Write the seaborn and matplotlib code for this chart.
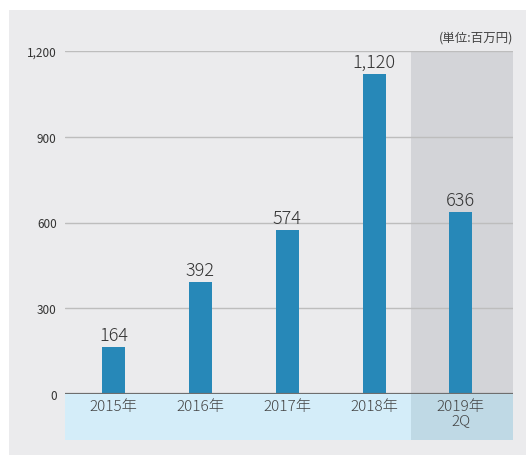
import numpy as np
import pandas as pd
import matplotlib.pyplot as plt
import seaborn as sns
from matplotlib.patches import Rectangle

years = ['2015年', '2016年', '2017年', '2018年', '2019年\n2Q']
values = [164, 392, 574, 1120, 636]
y_ticks = [0, 300, 600, 900, 1200]
y_tick_labels = ['0', '300', '600', '900', '1,200']
unit_label = '(単位:百万円)'

sns.set_style('white')
plt.rcParams['font.family'] = ['Noto Sans CJK JP', 'DejaVu Sans']

df = pd.DataFrame({'year': years, 'value': values})

fig = plt.figure(figsize=(5.26, 4.56), dpi=100)
fig.patch.set_facecolor('white')

# outer grey panel on a background axes
bg = fig.add_axes([0, 0, 1, 1], zorder=0)
bg.set_axis_off()
bg.add_patch(Rectangle((9 / 526, 0), 1, 1 - 11 / 456, transform=bg.transAxes,
                       facecolor='#EBEBED', edgecolor='none'))

ax = fig.add_axes([65 / 526, 61 / 456, 448 / 526, 343 / 456], zorder=1)
ax.set_facecolor('none')

sns.barplot(data=df, x='year', y='value', color='#2788B8', width=0.265,
            saturation=1, linewidth=0, edgecolor='none', ax=ax, zorder=3)

ax.set_xlim(-0.56, 4.6)
ax.set_ylim(0, 1200)

# highlighted last column
ax.add_patch(Rectangle((3.42, 0), 4.6 - 3.42, 1200, facecolor='#D3D4D8',
                       edgecolor='none', zorder=1))

# label band below axis
band_h = 46 / 343 * 1200
ax.add_patch(Rectangle((-0.56, -band_h), 3.42 + 0.56, band_h, facecolor='#D4EDF9',
                       edgecolor='none', clip_on=False, zorder=1))
ax.add_patch(Rectangle((3.42, -band_h), 4.6 - 3.42, band_h, facecolor='#BFD9E5',
                       edgecolor='none', clip_on=False, zorder=1))

for y in y_ticks[1:]:
    ax.axhline(y, color='#BDBDBD', lw=1, zorder=2)
ax.axhline(0, color='#6E6E6E', lw=1.6, zorder=4)

for i, v in enumerate(values):
    ax.text(i, v + 12, f'{v:,}', ha='center', va='bottom', fontsize=13,
            color='#333333', fontweight='light', zorder=5)

for i, lab in enumerate(years):
    ax.text(i, -18, lab, ha='center', va='top', fontsize=11, color='#444444',
            linespacing=1.0, fontweight='light', zorder=5)

ax.set_yticks(y_ticks)
ax.set_yticklabels(y_tick_labels, fontsize=8.5, color='#333333')
ax.set_xticks([])
ax.tick_params(axis='y', length=0, pad=6)
ax.set_xlabel('')
ax.set_ylabel('')
sns.despine(ax=ax, left=True, bottom=True)

fig.text(513 / 526, 1 - 38 / 456, unit_label, ha='right', va='center',
         fontsize=9, color='#444444')

fig.savefig('out.png', dpi=100)
